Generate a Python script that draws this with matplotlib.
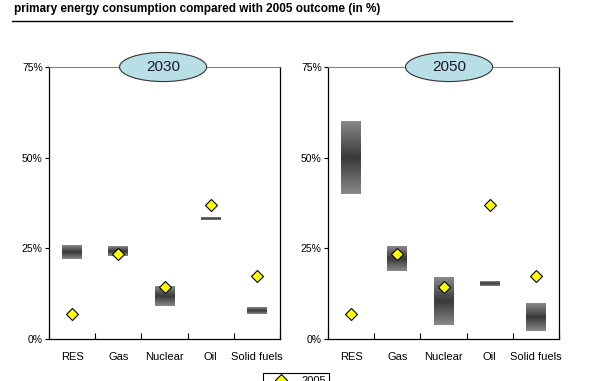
import numpy as np
import matplotlib
matplotlib.use("Agg")
import matplotlib.pyplot as plt
from matplotlib.colors import LinearSegmentedColormap
from matplotlib.patches import Ellipse
from matplotlib.lines import Line2D

plt.rcParams['font.family'] = ['Liberation Sans', 'DejaVu Sans']

categories = ['RES', 'Gas', 'Nuclear', 'Oil', 'Solid fuels']
share_2005 = [6.8, 23.4, 14.4, 36.9, 17.4]

# ranges of projected shares (low, high) in %
low_2030 = [22.0, 23.0, 9.1, 32.8, 6.8]
high_2030 = [25.6, 25.6, 14.4, 33.5, 8.5]
low_2050 = [40.0, 18.8, 3.9, 14.6, 2.3]
high_2050 = [60.1, 25.6, 17.0, 15.8, 10.0]

years = ['2030', '2050']
yticks = [0, 25, 50, 75]

# vertical grey gradient: light edges, dark middle
cmap = LinearSegmentedColormap.from_list('bar', ['#3a3a3a', '#888888'])
grad = np.abs(np.linspace(-1, 1, 64)).reshape(-1, 1)

fig = plt.figure(figsize=(6.02, 3.81), dpi=100)

fig.text(14 / 602, 1 - 9 / 381, 'primary energy consumption compared with 2005 outcome (in %)',
         fontsize=8.5, fontweight='bold', ha='left', va='center')
fig.add_artist(Line2D([12 / 602, 512 / 602], [1 - 20.7 / 381] * 2, color='black', lw=1.0))

panels = [(49, low_2030, high_2030, 0.494), (328, low_2050, high_2050, 0.524)]
x = np.arange(len(categories))
w = 0.43

for (left, lo, hi, ex), year in zip(panels, years):
    ax = fig.add_axes([left / 602, 42 / 381, 231 / 602, 272 / 381])
    for xi, a, b in zip(x, lo, hi):
        ax.imshow(grad, extent=(xi - w / 2, xi + w / 2, a, b), cmap=cmap,
                  aspect='auto', interpolation='bilinear', zorder=2)
    ax.plot(x, share_2005, linestyle='none', marker='D', ms=6.5,
            mfc='#ffff00', mec='black', mew=0.8, zorder=3)
    ax.set_xlim(-0.5, 4.5)
    ax.set_ylim(0, 75)
    ax.set_aspect('auto')

    ax.set_yticks(yticks)
    ax.set_yticklabels([f'{t}%' for t in yticks])
    ax.tick_params(axis='y', direction='out', length=3, width=0.8, pad=1.5, labelsize=7.5)
    ax.set_xticks(x)
    ax.set_xticklabels(categories)
    ax.tick_params(axis='x', which='major', length=0, pad=9, labelsize=8)
    ax.set_xticks(np.arange(-0.5, 5, 1), minor=True)
    ax.tick_params(axis='x', which='minor', direction='in', length=4, width=0.8)

    for s in ['left', 'right', 'bottom']:
        ax.spines[s].set_color('black')
        ax.spines[s].set_linewidth(0.9)
    ax.spines['top'].set_color('#808080')
    ax.spines['top'].set_linewidth(0.8)

    ax.add_patch(Ellipse((ex, 1.0), 0.377, 0.107, transform=ax.transAxes,
                         facecolor='#b9dfe6', edgecolor='#333333', lw=0.8,
                         clip_on=False, zorder=5))
    ax.text(ex, 1.0, year, transform=ax.transAxes, fontsize=11,
            ha='center', va='center', color='#1a1a2a', zorder=6)

# legend sits at the bottom edge, partly cut off as in the original
handle = Line2D([], [], linestyle='none', marker='D', ms=6.5,
                mfc='#ffff00', mec='black', mew=0.8)
leg = fig.legend([handle], ['2005'], loc='upper left', bbox_to_anchor=(263 / 602, 8 / 381),
                 borderaxespad=0, fontsize=8, fancybox=False, edgecolor='black',
                 framealpha=1, handlelength=2.8, handletextpad=0.4, borderpad=0.25)
leg.get_frame().set_linewidth(0.8)

fig.savefig('out.png', dpi=100)
